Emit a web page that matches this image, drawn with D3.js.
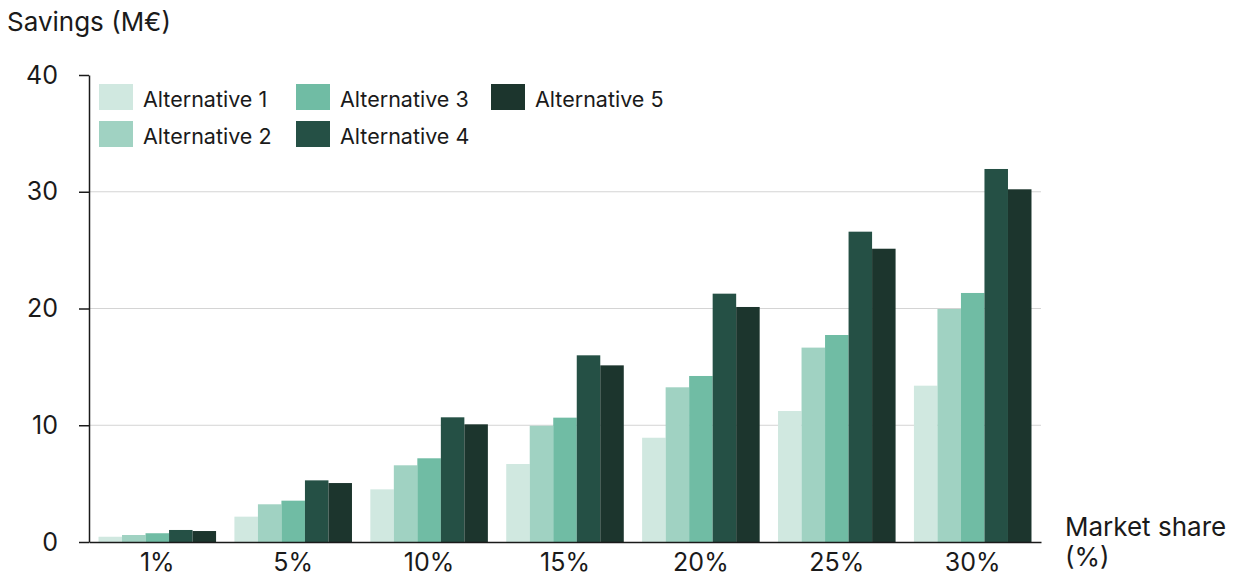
<!DOCTYPE html>
<html><head><meta charset="utf-8">
<script src="https://cdn.jsdelivr.net/npm/d3@7"></script>
<style>
body{margin:0;background:#fff;}
text{font-family:Inter,"Noto Sans",sans-serif;fill:#1a1a1a;}
</style></head>
<body><svg id="c" width="1235" height="577"></svg>
<script>
const categories = ["1%","5%","10%","15%","20%","25%","30%"];
const seriesNames = ["Alternative 1","Alternative 2","Alternative 3","Alternative 4","Alternative 5"];
const alt1 = [0.45, 2.17, 4.51, 6.68, 8.93, 11.22, 13.39];
const alt2 = [0.6, 3.23, 6.57, 9.96, 13.25, 16.65, 19.96];
const alt3 = [0.75, 3.54, 7.17, 10.65, 14.22, 17.73, 21.33];
const alt4 = [1.03, 5.28, 10.68, 15.99, 21.27, 26.58, 31.95];
const alt5 = [0.94, 5.05, 10.08, 15.13, 20.13, 25.12, 30.21];
const yTicks = [0,10,20,30,40];
const colors = ["#d0e8e0","#a0d2c2","#70bca4","#255045","#1c352d"];
const seriesValues = [alt1,alt2,alt3,alt4,alt5];

(function(){
const svg = d3.select("#c");
const mLeft = 89, mRight = 1041, mTop = 75, mBottom = 542;
const x = d3.scaleBand().domain(categories).range([mLeft,mRight]).paddingInner(0.135).paddingOuter(0.07);
const xs = d3.scaleBand().domain(seriesNames).range([0,x.bandwidth()]);
const y = d3.scaleLinear().domain([0,40]).range([mBottom,mTop]);
const color = d3.scaleOrdinal().domain(seriesNames).range(colors);

// gridlines
svg.append("g").selectAll("line").data(yTicks.filter(d=>d>0 && d<40)).join("line")
  .attr("x1",mLeft).attr("x2",mRight).attr("y1",d=>y(d)).attr("y2",d=>y(d))
  .attr("stroke","#d4d4d4").attr("stroke-width",1);

// bars
const rows = categories.map((c,i)=>({cat:c, vals:seriesNames.map((s,j)=>({s, v:seriesValues[j][i]}))}));
const g = svg.append("g").selectAll("g").data(rows).join("g").attr("transform",d=>`translate(${x(d.cat)},0)`);
g.selectAll("rect").data(d=>d.vals).join("rect")
  .attr("x",d=>xs(d.s)).attr("width",xs.bandwidth()).attr("y",d=>y(d.v)).attr("height",d=>y(0)-y(d.v))
  .attr("fill",d=>color(d.s));

// y axis
const yAxis = svg.append("g").attr("transform",`translate(${mLeft},0)`)
  .call(d3.axisLeft(y).tickValues(yTicks).tickSize(10).tickPadding(21).tickSizeOuter(0));
yAxis.select(".domain").attr("stroke","#1a1a1a").attr("stroke-width",1.5);
yAxis.selectAll(".tick line").attr("stroke","#1a1a1a").attr("stroke-width",1.5);
yAxis.selectAll(".tick text").attr("font-size",25).attr("font-family","Inter").attr("fill","#1a1a1a");

// x axis
const xAxis = svg.append("g").attr("transform",`translate(0,${mBottom})`)
  .call(d3.axisBottom(x).tickSize(0).tickPadding(11).tickSizeOuter(0));
xAxis.select(".domain").attr("stroke","#1a1a1a").attr("stroke-width",1.5);
xAxis.selectAll(".tick text").attr("font-size",25).attr("font-family","Inter").attr("fill","#1a1a1a");

// titles
svg.append("text").attr("x",7).attr("y",31).attr("font-size",26).text("Savings (M€)");
const mt = svg.append("text").attr("x",1065).attr("y",536).attr("font-size",26);
mt.append("tspan").attr("x",1065).text("Market share");
mt.append("tspan").attr("x",1065).attr("dy",30).text("(%)");

// legend
const legendPos = [[99,84],[99,121],[296,84],[296,121],[491,84]];
const lg = svg.append("g").selectAll("g").data(seriesNames).join("g")
  .attr("transform",(d,i)=>`translate(${legendPos[i][0]},${legendPos[i][1]})`);
lg.append("rect").attr("width",34).attr("height",26).attr("fill",d=>color(d));
lg.append("text").attr("x",44).attr("y",22.5).attr("font-size",21.5).text(d=>d);
})();
</script></body></html>
